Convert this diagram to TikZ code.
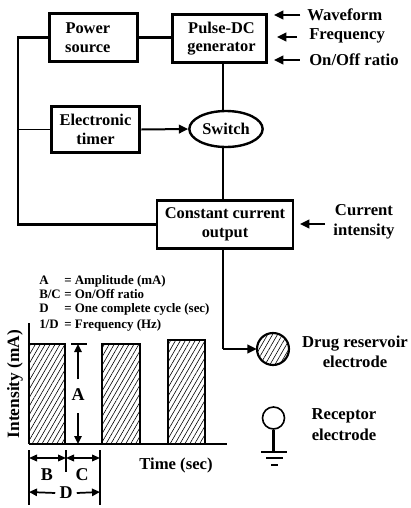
\documentclass[tikz,border=0pt]{standalone}
\usepackage{fontspec}
\setmainfont{Liberation Serif}
\usetikzlibrary{arrows.meta,patterns.meta,shapes.geometric}
\tikzset{
  blockbox/.style={draw,line width=2.2pt,inner sep=0pt,align=center,font=\fontsize{12.3}{14}\selectfont\bfseries},
  plain/.style={inner sep=0pt,align=center,font=\fontsize{12.5}{14.8}\selectfont\bfseries},
  dimlab/.style={inner sep=0pt,font=\fontsize{13.5}{14}\selectfont\bfseries},
  legend/.style={inner sep=0pt,anchor=base west,font=\fontsize{9.7}{10}\selectfont\bfseries},
  wire/.style={line width=1.6pt},
  thinwire/.style={line width=1pt},
  arrowline/.style={line width=1.5pt,-{Triangle[length=7pt,width=6.5pt]}},
  dimline/.style={line width=1.1pt,{Triangle[length=6pt,width=5pt]}-{Triangle[length=6pt,width=5pt]}},
  halfdim/.style={line width=1.3pt,-{Triangle[length=6pt,width=5.5pt]}},
  hatchfill/.style={pattern={Lines[angle=60,distance=3.2pt,line width=.45pt]}},
  baredge/.style={line width=1.6pt}
}
\begin{document}
\begin{tikzpicture}[x=0.75pt,y=-0.75pt]
\useasboundingbox (0,0) rectangle (411,508);
% blocks
\node[blockbox,minimum width=65.5pt,minimum height=36pt] (power) at (93.5,37.5) {Power\hspace*{8.5pt}\\source\hspace*{8.5pt}};
\node[blockbox,minimum width=70pt,minimum height=36pt] (pulse) at (219.5,38.5) {\hspace*{3pt}Pulse-DC\\\hspace*{3pt}generator};
\node[blockbox,minimum width=66.5pt,minimum height=35pt] (timer) at (95.5,129.5) {Electronic\\timer};
\node[blockbox,ellipse,line width=1.8pt,minimum width=55pt,minimum height=27pt] (sw) at (226,129) {Switch};
\node[blockbox,minimum width=102pt,minimum height=36pt] (cc) at (225,224.5) {Constant current\\output};
% helper coordinates
\coordinate (trunk) at (223,0);
\coordinate (bus) at (18,0);
% top-right inputs
\node[plain,anchor=west] (wf) at (307,15) {Waveform};
\node[plain,anchor=west] (fr) at (309,36) {Frequency};
\node[plain,anchor=west] (oo) at (309,60) {On/Off ratio};
\node[plain] (ci) at (364,222) {Current\\intensity};
\coordinate (wfa) at (274,15);
\coordinate (fra) at (277,37);
\coordinate (ooa) at (274,60);
\coordinate (cia) at (300,224);
\draw[arrowline] ([xshift=-5pt]wf.west) -- (wfa);
\draw[arrowline] ([xshift=-9pt]fr.west |- fra) -- (fra);
\draw[arrowline] ([xshift=-7pt]oo.west) -- (ooa);
\draw[arrowline] ([xshift=-6pt]ci.west |- cia) -- (cia);
% wires
\draw[wire] (power.east) -- (power.east -| pulse.west);
\draw[wire,line width=1.7pt] (pulse.south -| trunk) -- (trunk |- sw.north);
\draw[thinwire,line width=1.3pt] (trunk |- sw.south) -- (trunk |- cc.north);
\draw[wire] (power.west) -- (power.west -| bus) -- (bus |- cc.west) -- (cc.west);
\draw[thinwire] (timer.west) -- (timer.west -| bus);
\draw[arrowline] (timer.east) -- (sw.west);
% electrodes
\node[circle,draw,line width=1.6pt,hatchfill,minimum size=24pt,inner sep=0pt] (drug) at (273,349) {};
\draw[thinwire,line width=1.3pt] (trunk |- cc.south) -- (trunk |- drug.west);
\draw[arrowline] (trunk |- drug.west) -- (drug.west);
\node[plain] (drugt) at (355,352) {Drug reservoir\\electrode};
\node[circle,draw,line width=1.2pt,minimum size=16.5pt,inner sep=0pt] (rec) at (273.5,418) {};
\coordinate (g1) at (273.5,452);
\draw[wire] (rec.south) -- (g1);
\draw[wire] (261,452) -- (287,452);
\draw[wire] (266,458) -- (283,458);
\draw[line width=1.8pt] (271,465) -- (278,465);
\node[plain,font=\fontsize{12.5}{16}\selectfont\bfseries] (rect) at (344,424.5) {Receptor\\electrode};
% legend
\node[legend] (l1a) at (39,284) {A};
\node[legend] (l1b) at (64,284) {= Amplitude (mA)};
\node[legend] (l2a) at (39,298) {B/C};
\node[legend] (l2b) at (64,298) {= On/Off ratio};
\node[legend] (l3a) at (39,312) {D};
\node[legend] (l3b) at (64,312) {= One complete cycle (sec)};
\node[legend] (l4a) at (39,328) {1/D};
\node[legend] (l4b) at (64,328) {= Frequency (Hz)};
% chart
\coordinate (orig) at (29,444);
\coordinate (ytop) at (29,323);
\coordinate (xend) at (227,444);
\fill[hatchfill] (29,344) rectangle (65,444);
\fill[hatchfill] (102,344) rectangle (140,444);
\fill[hatchfill] (168,340) rectangle (205,444);
\draw[baredge] (29,344) -- (65,344) -- (65,444);
\draw[baredge] (102,444) -- (102,344) -- (140,344) -- (140,444);
\draw[baredge] (168,444) -- (168,340) -- (205,340) -- (205,444);
\draw[line width=1.1pt] (ytop) -- (orig);
\draw[line width=1.8pt] (orig) -- (xend);
\node[inner sep=0pt,rotate=90,font=\fontsize{13}{14}\selectfont\bfseries] (ylab) at (15,384) {Intensity (mA)};
\node[plain] (xlab) at (176,465) {Time (sec)};
% amplitude
\node[dimlab] (alab) at (78,395) {A};
\coordinate (atop) at (78,344);
\coordinate (abot) at (78,444);
\draw[line width=1.8pt] (71,344) -- (87,344);
\draw[halfdim] (alab.north) ++(0,7pt) -- (atop);
\draw[halfdim] (alab.south) ++(0,-9pt) -- (abot);
% dimensions
\coordinate (t1) at (29,450); \coordinate (t1b) at (29,505);
\coordinate (t2) at (66,450); \coordinate (t2b) at (66,472);
\coordinate (t3) at (100,450); \coordinate (t3b) at (100,505);
\draw[thinwire] (t1) -- (t1b);
\draw[thinwire] (t2) -- (t2b);
\draw[thinwire] (t3) -- (t3b);
\coordinate (b1) at (29,458); \coordinate (b2) at (66,458); \coordinate (b3) at (100,458);
\draw[dimline] (b1) -- (b2);
\draw[dimline] (b2) -- (b3);
\node[dimlab] (blab) at (47,475) {B};
\node[dimlab] (clab) at (82,475) {C};
\node[dimlab] (dlab) at (66,493) {D};
\coordinate (d1) at (29,492); \coordinate (d3) at (100,492);
\draw[halfdim] (dlab.west) ++(-3pt,0) -- (d1);
\draw[halfdim] (dlab.east) ++(3pt,0) -- (d3);
\end{tikzpicture}
\end{document}
